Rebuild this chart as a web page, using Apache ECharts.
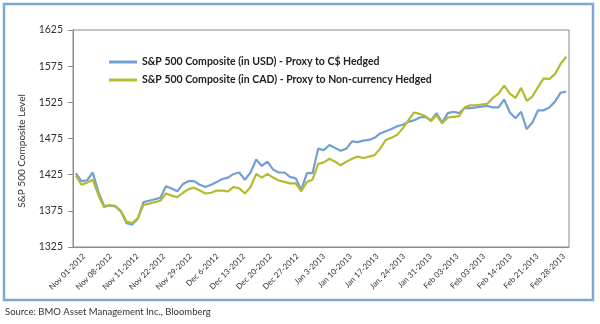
<!DOCTYPE html>
<html>
<head>
<meta charset="utf-8">
<script src="https://cdn.jsdelivr.net/npm/echarts@6/dist/echarts.min.js"></script>
<style>
html,body{margin:0;padding:0;background:#fff;}
#chart{width:600px;height:324px;}
</style>
</head>
<body>
<div id="chart"></div>
<script>
const seriesNames = [
  'S&P 500 Composite (in USD) - Proxy to C$ Hedged',
  'S&P 500 Composite (in CAD) - Proxy to Non-currency Hedged'
];
const tickLabels = ['Nov 01-2012','Nov 08-2012','Nov 11-2012','Nov 22-2012','Nov 29-2012','Dec 6-2012','Dec 13-2012','Dec 20-2012','Dec 27-2012','Jan 3-2013','Jan 10-2013','Jan 17-2013','Jan. 24-2013','Jan 31-2013','Feb 03-2013','Feb 03-2013','Feb 14-2013','Feb 21-2013','Feb 28-2013'];
const usd = [1427,1416,1417,1428,1401,1382,1382,1381,1374,1358,1356,1364,1387,1389,1391,1393,1409,1406,1402,1412,1416,1416,1411,1408,1411,1415,1419,1421,1426,1428,1418,1428,1446,1437,1443,1432,1428,1428,1422,1420,1404,1427,1427,1461,1459,1466,1462,1458,1461,1471,1470,1472,1473,1476,1482,1485,1488,1492,1494,1498,1500,1504,1505,1500,1510,1497,1510,1512,1510,1517,1517,1518,1519,1520,1518,1518,1529,1511,1503,1512,1488,1497,1514,1514,1518,1526,1538,1540];
const cad = [1424,1411,1414,1418,1397,1380,1383,1382,1375,1360,1358,1365,1383,1385,1387,1389,1399,1396,1394,1400,1405,1407,1403,1399,1400,1403,1403,1402,1408,1406,1399,1408,1426,1421,1426,1421,1417,1415,1413,1413,1402,1415,1418,1440,1442,1447,1443,1438,1443,1447,1450,1448,1450,1452,1461,1473,1476,1480,1489,1500,1511,1509,1506,1499,1507,1496,1504,1505,1506,1518,1521,1521,1522,1523,1531,1537,1548,1537,1531,1545,1527,1533,1546,1558,1557,1564,1578,1588];
const days = usd.map((_, i) => String(i + 1));
const yMin = 1325, yMax = 1625, yStep = 50;
const yTitle = 'S&P 500 Composite Level';
const sourceText = 'Source: BMO Asset Management Inc., Bloomberg';

const FONT = 'Lato';
const chart = echarts.init(document.getElementById('chart'), null, {renderer: 'canvas'});
chart.setOption({
  animation: false,
  backgroundColor: '#fff',
  textStyle: {fontFamily: FONT},
  grid: [
    {left: 73, top: 30, width: 496, height: 217, show: true, borderColor: '#8c8c8c', borderWidth: 1, backgroundColor: '#fff'},
    {left: 84, top: 30, right: 36, height: 217}
  ],
  xAxis: [
    {type: 'category', gridIndex: 0, data: days, boundaryGap: true,
     axisLine: {show: true, lineStyle: {color: '#8c8c8c'}}, axisTick: {show: false}, axisLabel: {show: false}},
    {type: 'category', gridIndex: 1, data: tickLabels, boundaryGap: false,
     axisLine: {show: false}, axisTick: {show: false},
     axisLabel: {interval: 0, rotate: 45, margin: 8, fontSize: 8, color: '#333', fontFamily: FONT}}
  ],
  yAxis: [
    {type: 'value', gridIndex: 0, min: yMin, max: yMax, interval: yStep,
     axisLine: {show: true, lineStyle: {color: '#8c8c8c'}},
     axisTick: {show: true, inside: false, length: 5, lineStyle: {color: '#8c8c8c'}},
     axisLabel: {margin: 10, fontSize: 10.5, color: '#333', fontFamily: FONT, formatter: v => String(v)},
     splitLine: {show: false}},
    {type: 'value', gridIndex: 1, min: yMin, max: yMax, show: false}
  ],
  legend: {
    orient: 'vertical', left: 104, top: 50, itemWidth: 28, itemHeight: 3, itemGap: 4,
    icon: 'rect',
    textStyle: {fontSize: 10.5, fontWeight: 'bold', color: '#222', lineHeight: 14, fontFamily: FONT},
    data: seriesNames
  },
  series: [
    {name: seriesNames[0], type: 'line', xAxisIndex: 0, yAxisIndex: 0, data: usd, symbol: 'none',
     lineStyle: {color: '#72a0d2', width: 2.2}, itemStyle: {color: '#72a0d2'}},
    {name: seriesNames[1], type: 'line', xAxisIndex: 0, yAxisIndex: 0, data: cad, symbol: 'none',
     lineStyle: {color: '#b4bc2e', width: 2.2}, itemStyle: {color: '#b4bc2e'}}
  ],
  graphic: [
    {type: 'rect', shape: {x: 4, y: 4, width: 589, height: 296}, style: {fill: 'none', stroke: '#7fa6d2', lineWidth: 2.5}, silent: true},
    {type: 'text', x: 22, y: 151, rotation: Math.PI / 2,
     style: {text: yTitle, fontSize: 10, fill: '#333', fontFamily: FONT, textAlign: 'center', textVerticalAlign: 'middle'}},
    {type: 'text', x: 5, y: 312,
     style: {text: sourceText, fontSize: 9.5, fill: '#333', fontFamily: FONT, textAlign: 'left', textVerticalAlign: 'middle'}}
  ]
});
</script>
</body>
</html>
